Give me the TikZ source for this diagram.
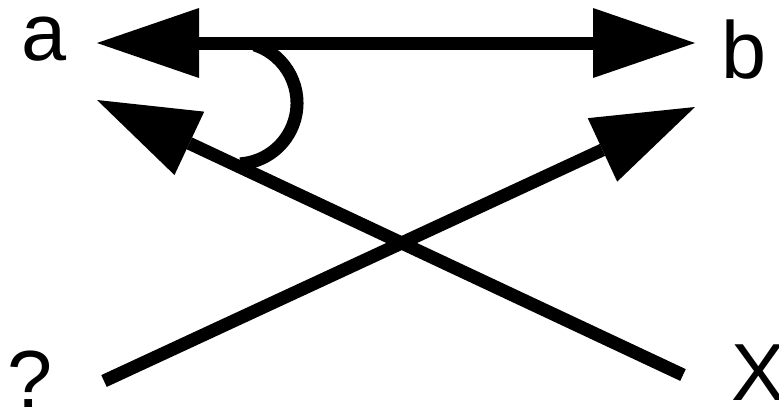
\documentclass[tikz,border=0pt]{standalone}
\usepackage{fontspec}
\setmainfont{Liberation Sans}
\usetikzlibrary{arrows.meta}
\begin{document}
\begin{tikzpicture}[x=1pt,y=-1pt,
  lbl/.style={inner sep=0pt,anchor=base west,font=\fontsize{81}{97}\selectfont},
  bigarrow/.style={line width=13pt,-{Triangle[length=102pt,width=70pt,line width=0pt]}},
  bigdouble/.style={line width=13pt,{Triangle[length=102pt,width=70pt,line width=0pt]}-{Triangle[length=102pt,width=70pt,line width=0pt]}},
  anglemark/.style={line width=13pt}]
\useasboundingbox (0,0) rectangle (779,410);
\node[lbl] (a) at (21,60) {a};
\node[lbl] (b) at (721,78) {b};
\node[lbl] (q) at (7,407) {?};
\node[lbl] (x) at (731,400) {X};
\coordinate (ta) at (97,43);
\coordinate (tb) at (695,43);
\coordinate (ua) at (97,100);
\coordinate (ub) at (695,107);
\coordinate (sx) at (683,375);
\coordinate (sq) at (104,381);
\draw[bigdouble] (ta) -- (tb);
\draw[bigarrow] (sx) -- (ua);
\draw[bigarrow] (sq) -- (ub);
\coordinate (c) at (236,103);
\draw[anglemark] (c) ++(-72:61) arc[start angle=-72,end angle=86,radius=61];
\end{tikzpicture}
\end{document}
